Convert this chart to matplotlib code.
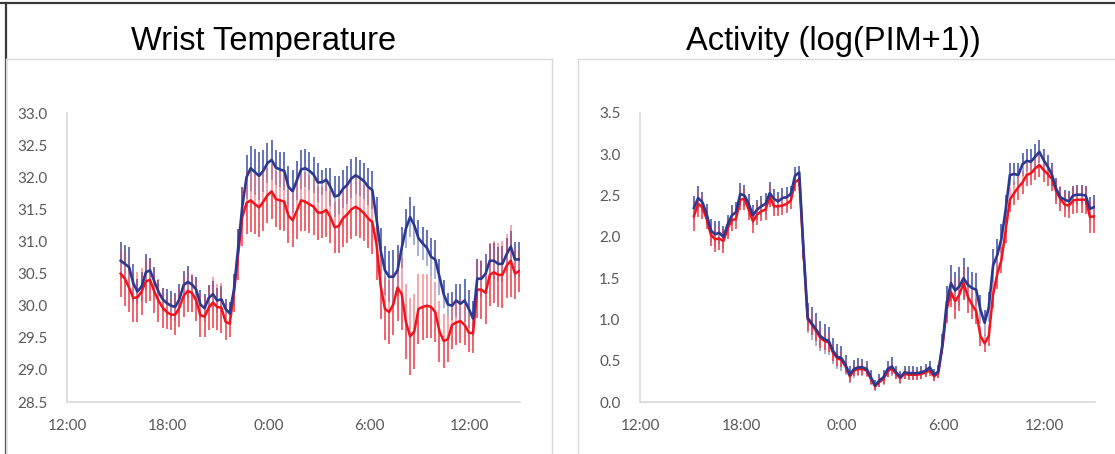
import matplotlib
matplotlib.use("Agg")
import matplotlib.pyplot as plt
from matplotlib.lines import Line2D
import numpy as np

# hours after 12:00 on day one, one reading every 15 min from 15:12
HOURS = [3.2 + 0.25 * i for i in range(96)]

temp_ctrl = [
    30.70, 30.65, 30.60, 30.35, 30.22, 30.30, 30.52, 30.55, 30.38, 30.22, 30.10, 30.04,
    30.00, 29.98, 30.10, 30.32, 30.37, 30.33, 30.25, 30.02, 29.96, 30.12, 30.18, 30.08,
    30.10, 29.95, 29.88, 30.25, 30.90, 31.55, 32.00, 32.14, 32.08, 32.02, 32.10, 32.22,
    32.27, 32.15, 32.12, 32.10, 31.85, 31.78, 31.95, 32.12, 32.14, 32.10, 32.04, 31.92,
    31.92, 31.96, 31.85, 31.70, 31.72, 31.82, 31.88, 31.98, 32.03, 31.99, 31.94, 31.85,
    31.80, 31.35, 30.85, 30.55, 30.45, 30.45, 30.55, 30.90, 31.20, 31.38, 31.25, 31.05,
    30.97, 30.90, 30.76, 30.72, 30.45, 30.18, 30.02, 30.00, 30.08, 30.03, 30.08, 29.95,
    29.80, 30.42, 30.42, 30.50, 30.70, 30.70, 30.65, 30.65, 30.80, 30.92, 30.72, 30.72,
]
temp_ctrl_err = [
    0.29, 0.29, 0.32, 0.30, 0.20, 0.22, 0.28, 0.20, 0.22, 0.18, 0.18, 0.22,
    0.23, 0.22, 0.23, 0.22, 0.25, 0.15, 0.20, 0.22, 0.22, 0.20, 0.20, 0.20,
    0.20, 0.16, 0.18, 0.25, 0.30, 0.30, 0.34, 0.35, 0.36, 0.37, 0.33, 0.31,
    0.31, 0.27, 0.28, 0.30, 0.32, 0.34, 0.31, 0.30, 0.30, 0.30, 0.28, 0.30,
    0.20, 0.18, 0.30, 0.32, 0.30, 0.30, 0.30, 0.30, 0.29, 0.28, 0.28, 0.29,
    0.30, 0.34, 0.36, 0.38, 0.40, 0.42, 0.40, 0.32, 0.30, 0.31, 0.30, 0.28,
    0.26, 0.28, 0.30, 0.31, 0.28, 0.22, 0.18, 0.22, 0.26, 0.30, 0.34, 0.30,
    0.28, 0.31, 0.28, 0.30, 0.26, 0.28, 0.26, 0.28, 0.26, 0.25, 0.27, 0.27,
]
temp_case = [
    30.50, 30.42, 30.28, 30.12, 30.13, 30.22, 30.38, 30.40, 30.22, 30.08, 29.97, 29.90,
    29.86, 29.86, 29.97, 30.15, 30.23, 30.20, 30.08, 29.85, 29.83, 29.97, 30.05, 29.98,
    29.97, 29.75, 29.72, 30.20, 30.80, 31.38, 31.60, 31.64, 31.58, 31.53, 31.62, 31.72,
    31.78, 31.66, 31.64, 31.62, 31.40, 31.33, 31.48, 31.64, 31.62, 31.58, 31.54, 31.45,
    31.45, 31.49, 31.38, 31.22, 31.24, 31.36, 31.42, 31.50, 31.54, 31.50, 31.44, 31.36,
    31.30, 30.95, 30.30, 29.95, 29.90, 30.02, 30.28, 30.18, 29.75, 29.52, 29.60, 29.95,
    29.98, 30.00, 29.98, 29.90, 29.60, 29.45, 29.48, 29.70, 29.74, 29.76, 29.70, 29.58,
    29.57, 30.25, 30.25, 30.20, 30.48, 30.52, 30.48, 30.48, 30.62, 30.70, 30.50, 30.54,
]
temp_case_err = [
    0.37, 0.42, 0.38, 0.37, 0.39, 0.36, 0.34, 0.33, 0.34, 0.33, 0.31, 0.26,
    0.24, 0.31, 0.30, 0.32, 0.33, 0.30, 0.32, 0.34, 0.32, 0.35, 0.39, 0.36,
    0.39, 0.29, 0.21, 0.30, 0.40, 0.45, 0.48, 0.49, 0.47, 0.46, 0.45, 0.43,
    0.43, 0.44, 0.46, 0.45, 0.42, 0.42, 0.44, 0.47, 0.46, 0.45, 0.44, 0.42,
    0.40, 0.42, 0.40, 0.40, 0.42, 0.44, 0.45, 0.46, 0.46, 0.45, 0.44, 0.46,
    0.50, 0.55, 0.50, 0.49, 0.50, 0.48, 0.52, 0.56, 0.58, 0.60, 0.58, 0.55,
    0.52, 0.50, 0.48, 0.47, 0.47, 0.42, 0.36, 0.38, 0.36, 0.34, 0.32, 0.30,
    0.30, 0.44, 0.46, 0.48, 0.49, 0.48, 0.50, 0.52, 0.50, 0.56, 0.40, 0.33,
]

act_ctrl = [
    2.35, 2.47, 2.42, 2.28, 2.08, 2.03, 2.05, 2.00, 2.15, 2.26, 2.30, 2.52,
    2.50, 2.40, 2.26, 2.33, 2.37, 2.40, 2.53, 2.46, 2.43, 2.47, 2.48, 2.52,
    2.74, 2.78, 1.85, 1.02, 0.95, 0.88, 0.80, 0.76, 0.74, 0.62, 0.55, 0.53,
    0.45, 0.33, 0.40, 0.42, 0.42, 0.40, 0.30, 0.20, 0.26, 0.30, 0.40, 0.43,
    0.36, 0.30, 0.36, 0.35, 0.35, 0.35, 0.36, 0.38, 0.42, 0.33, 0.37, 0.70,
    1.20, 1.44, 1.35, 1.40, 1.50, 1.42, 1.38, 1.36, 1.12, 0.96, 1.15, 1.65,
    1.78, 1.98, 2.33, 2.75, 2.76, 2.75, 2.88, 2.92, 2.91, 2.97, 3.03, 2.93,
    2.85, 2.75, 2.58, 2.48, 2.45, 2.43, 2.50, 2.51, 2.51, 2.50, 2.34, 2.36,
]
act_ctrl_err = [
    0.14, 0.15, 0.12, 0.12, 0.14, 0.16, 0.14, 0.13, 0.12, 0.12, 0.12, 0.13,
    0.13, 0.12, 0.12, 0.12, 0.12, 0.13, 0.14, 0.12, 0.11, 0.12, 0.12, 0.10,
    0.10, 0.08, 0.10, 0.18, 0.20, 0.20, 0.18, 0.18, 0.17, 0.16, 0.15, 0.15,
    0.12, 0.10, 0.11, 0.11, 0.10, 0.10, 0.09, 0.07, 0.08, 0.09, 0.10, 0.11,
    0.08, 0.08, 0.08, 0.08, 0.08, 0.07, 0.08, 0.08, 0.08, 0.07, 0.08, 0.12,
    0.20, 0.22, 0.22, 0.24, 0.25, 0.22, 0.20, 0.20, 0.18, 0.16, 0.18, 0.20,
    0.20, 0.18, 0.18, 0.14, 0.13, 0.14, 0.14, 0.14, 0.15, 0.15, 0.14, 0.14,
    0.14, 0.14, 0.13, 0.12, 0.12, 0.12, 0.12, 0.12, 0.12, 0.12, 0.14, 0.15,
]
act_case = [
    2.25, 2.40, 2.36, 2.22, 2.03, 1.97, 1.98, 1.95, 2.10, 2.20, 2.22, 2.45,
    2.46, 2.33, 2.19, 2.27, 2.31, 2.33, 2.49, 2.37, 2.37, 2.38, 2.40, 2.44,
    2.66, 2.70, 1.83, 1.00, 0.94, 0.86, 0.78, 0.74, 0.72, 0.60, 0.53, 0.51,
    0.43, 0.31, 0.38, 0.40, 0.40, 0.38, 0.28, 0.19, 0.24, 0.28, 0.37, 0.41,
    0.34, 0.29, 0.34, 0.33, 0.33, 0.33, 0.34, 0.36, 0.38, 0.31, 0.35, 0.68,
    1.12, 1.33, 1.22, 1.30, 1.44, 1.28, 1.18, 1.10, 0.80, 0.71, 0.80, 1.30,
    1.55, 1.72, 2.08, 2.45, 2.53, 2.60, 2.66, 2.75, 2.77, 2.83, 2.87, 2.81,
    2.76, 2.70, 2.55, 2.46, 2.39, 2.38, 2.44, 2.45, 2.45, 2.45, 2.24, 2.25,
]
act_case_err = [
    0.18, 0.16, 0.14, 0.13, 0.14, 0.15, 0.14, 0.14, 0.13, 0.13, 0.12, 0.13,
    0.13, 0.13, 0.14, 0.13, 0.12, 0.12, 0.13, 0.12, 0.12, 0.12, 0.11, 0.10,
    0.10, 0.08, 0.10, 0.14, 0.13, 0.12, 0.12, 0.11, 0.11, 0.10, 0.09, 0.09,
    0.08, 0.07, 0.07, 0.07, 0.07, 0.07, 0.06, 0.05, 0.06, 0.06, 0.07, 0.07,
    0.06, 0.06, 0.06, 0.06, 0.06, 0.06, 0.06, 0.06, 0.06, 0.06, 0.06, 0.10,
    0.16, 0.18, 0.22, 0.20, 0.20, 0.20, 0.18, 0.16, 0.12, 0.10, 0.12, 0.16,
    0.18, 0.16, 0.16, 0.15, 0.15, 0.15, 0.14, 0.14, 0.14, 0.14, 0.14, 0.14,
    0.14, 0.14, 0.15, 0.15, 0.15, 0.15, 0.16, 0.16, 0.16, 0.17, 0.19, 0.20,
]

TICK_HOURS = [0, 6, 12, 18, 24]
TICK_LABELS = ["12:00", "18:00", "0:00", "6:00", "12:00"]

BLUE = "#2B3990"
BLUE_BAR = "#3F4FA8"
RED = "#F0141E"
RED_BAR = "#F03A46"
AXIS_GREY = "#D9D9D9"
TEXT_GREY = "#595959"

W, H = 1115, 454


def px_box(x0, y0, x1, y1):
    """Axes rect in figure fractions from pixel corners (top-left origin)."""
    return [x0 / W, 1 - y1 / H, (x1 - x0) / W, (y1 - y0) / H]


def draw_bars(ax, x, mean, err, color, strong_up):
    mean = np.asarray(mean)
    err = np.asarray(err)
    up = dict(colors=color, lw=1.4, zorder=2)
    # the half of each bar pointing away from the other group is drawn stronger
    ax.vlines(x, mean, mean + err, alpha=0.8 if strong_up else 0.45, **up)
    ax.vlines(x, mean - err, mean, alpha=0.45 if strong_up else 0.8, **up)


def draw_panel(ax, ctrl, ctrl_err, case, case_err, ylim, yticks):
    x = np.array(HOURS)
    draw_bars(ax, x, ctrl, ctrl_err, BLUE_BAR, strong_up=True)
    draw_bars(ax, x, case, case_err, RED_BAR, strong_up=False)
    ax.plot(x, case, color=RED, lw=1.8, zorder=4, solid_joinstyle="round")
    ax.plot(x, ctrl, color=BLUE, lw=1.9, zorder=5, solid_joinstyle="round")

    ax.set_xlim(0, 27)
    ax.set_ylim(*ylim)
    ax.set_yticks(yticks)
    ax.set_yticklabels([f"{v:.1f}" for v in yticks])
    ax.set_xticks(TICK_HOURS)
    ax.set_xticklabels(TICK_LABELS)
    for side in ("top", "right"):
        ax.spines[side].set_visible(False)
    for side in ("left", "bottom"):
        ax.spines[side].set_color(AXIS_GREY)
        ax.spines[side].set_linewidth(1.2)
    ax.tick_params(length=0, labelsize=11, colors=TEXT_GREY)
    ax.tick_params(axis="y", pad=14)
    ax.tick_params(axis="x", pad=12)
    for lab in ax.get_xticklabels() + ax.get_yticklabels():
        lab.set_family(["Lato", "DejaVu Sans"])


fig = plt.figure(figsize=(W / 100, H / 100), dpi=100)

# outer frame (top and left edges) and the two chart boxes
fig.add_artist(Line2D([0, 1], [1 - 2.5 / H, 1 - 2.5 / H], color="#3A3A3A", lw=1.6,
                      transform=fig.transFigure))
fig.add_artist(Line2D([6 / W, 6 / W], [0, 1 - 2.5 / H], color="#3A3A3A", lw=1.6,
                      transform=fig.transFigure))
box_top = 1 - 59 / H
for x0, x1 in [(6, 552), (578, 1116)]:
    fig.add_artist(Line2D([x0 / W, x1 / W], [box_top, box_top], color=AXIS_GREY, lw=1.0,
                          transform=fig.transFigure))
    fig.add_artist(Line2D([x0 / W, x0 / W], [0, box_top], color=AXIS_GREY, lw=1.0,
                          transform=fig.transFigure))
    fig.add_artist(Line2D([x1 / W, x1 / W], [0, box_top], color=AXIS_GREY, lw=1.0,
                          transform=fig.transFigure))

ax1 = fig.add_axes(px_box(67, 113, 520, 402))
draw_panel(ax1, temp_ctrl, temp_ctrl_err, temp_case, temp_case_err,
           (28.5, 33.0), [28.5 + 0.5 * k for k in range(10)])

ax2 = fig.add_axes(px_box(640, 113, 1095, 402))
draw_panel(ax2, act_ctrl, act_ctrl_err, act_case, act_case_err,
           (0.0, 3.5), [0.5 * k for k in range(8)])

title_kw = dict(fontsize=23.5, family=["Liberation Sans", "DejaVu Sans"],
                ha="center", va="baseline", color="black")
fig.text(264 / W, 1 - 50 / H, "Wrist Temperature", **title_kw)
fig.text(833 / W, 1 - 50 / H, "Activity (log(PIM+1))", **title_kw)

fig.savefig("out.png", dpi=100, facecolor="white")
